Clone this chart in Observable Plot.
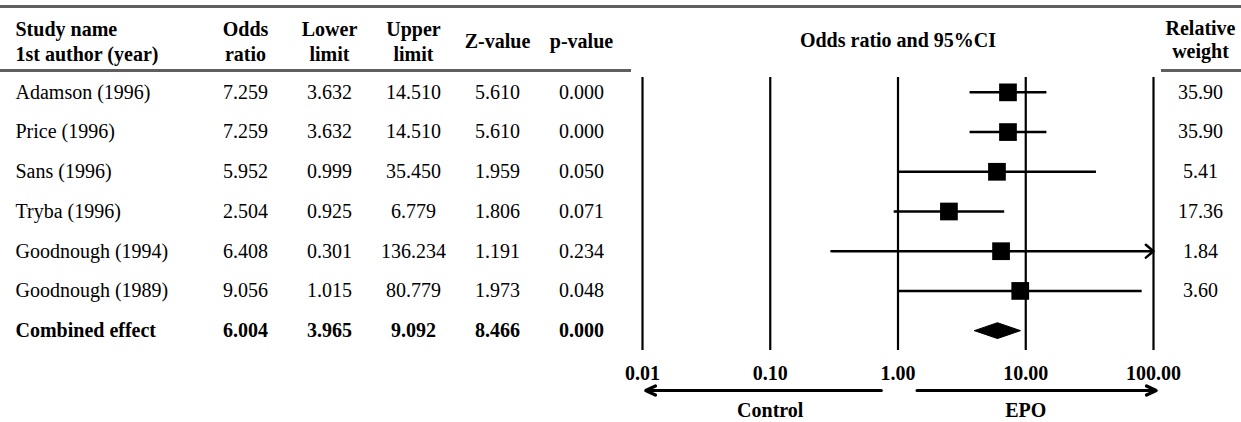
<!DOCTYPE html>
<html><head><meta charset="utf-8">
<script src="https://cdn.jsdelivr.net/npm/d3@7"></script>
<script src="https://cdn.jsdelivr.net/npm/@observablehq/plot@0.6"></script>
<style>
body{margin:0;background:#fff;}
#chart{position:relative;width:1241px;height:422px;overflow:hidden;font-family:"Liberation Serif","Times New Roman",serif;}
#chart svg{position:absolute;top:0;overflow:visible;background:transparent;max-width:none;}
.rule{position:absolute;background:#5f5f5f;height:3px}
#chart g[aria-label^="x-axis"] text{font-weight:bold}
</style></head>
<body><div id="chart"></div>
<script>
const studies = ["Adamson (1996)", "Price (1996)", "Sans (1996)", "Tryba (1996)", "Goodnough (1994)", "Goodnough (1989)", "Combined effect"];
const oddsRatio = [7.259, 7.259, 5.952, 2.504, 6.408, 9.056, 6.004];
const lowerLimit = [3.632, 3.632, 0.999, 0.925, 0.301, 1.015, 3.965];
const upperLimit = [14.510, 14.510, 35.450, 6.779, 136.234, 80.779, 9.092];
const zValue = [5.610, 5.610, 1.959, 1.806, 1.191, 1.973, 8.466];
const pValue = [0.000, 0.000, 0.050, 0.071, 0.234, 0.048, 0.000];
const relWeight = [35.90, 35.90, 5.41, 17.36, 1.84, 3.60, null];
const xTicks = [0.01, 0.1, 1, 10, 100];
const columnKeys = ["or", "lo", "hi", "z", "p"];
const columnHeaders = ["Odds\nratio", "Lower\nlimit", "Upper\nlimit", "Z-value", "p-value"];
const directionLabels = ["Control", "EPO"];
const directionAt = [0.1, 10];
const directionArrows = [[0.74, 0.0106], [1.41, 105]];

const font = "Liberation Serif";
const fs = 20;
const H = 422, MT = 72, MB = 72;
const combinedIdx = studies.length - 1;
const f3 = d3.format(".3f");

const rows = studies.map((name, i) => ({
  i, name, or: oddsRatio[i], lo: lowerLimit[i], hi: upperLimit[i],
  z: zValue[i], p: pValue[i], w: relWeight[i], bold: i === combinedIdx
}));
const cells = rows.flatMap(r => columnKeys.map(k => ({row: r.i, col: k, text: f3(r[k]), bold: r.bold})));
const yScale = {domain: [-0.5, studies.length - 0.5], reverse: true, axis: null};

const table = Plot.plot({
  width: 630, height: H, marginLeft: 15, marginRight: 0, marginTop: MT, marginBottom: MB,
  style: {fontFamily: font, fontSize: fs + "px", background: "transparent"},
  x: {type: "point", domain: columnKeys, range: [243.5, 582], padding: 0, axis: null},
  y: yScale,
  marks: [
    Plot.text(["Study name\n1st author (year)"], {text: d => d, frameAnchor: "top-left", textAnchor: "start", lineAnchor: "middle", dy: -32, fontWeight: "bold", lineHeight: 1.22}),
    Plot.text(columnKeys, {x: d => d, text: (d, i) => columnHeaders[i], frameAnchor: "top", lineAnchor: "middle", dy: -32, fontWeight: "bold", lineHeight: 1.22}),
    Plot.text(rows.filter(r => !r.bold), {y: "i", text: "name", frameAnchor: "left", textAnchor: "start"}),
    Plot.text(rows.filter(r => r.bold), {y: "i", text: "name", frameAnchor: "left", textAnchor: "start", fontWeight: "bold"}),
    Plot.text(cells.filter(c => !c.bold), {x: "col", y: "row", text: "text"}),
    Plot.text(cells.filter(c => c.bold), {x: "col", y: "row", text: "text", fontWeight: "bold"})
  ]
});
table.style.left = "0px";

const studyRows = rows.filter(r => !r.bold);
const xMax = xTicks[xTicks.length - 1];
const comb = rows[combinedIdx];
const diamond = [
  {x: comb.lo, y: comb.i}, {x: comb.or, y: comb.i - 0.2},
  {x: comb.hi, y: comb.i}, {x: comb.or, y: comb.i + 0.2}, {x: comb.lo, y: comb.i}
];

const forest = Plot.plot({
  width: 611, height: H, marginLeft: 12, marginRight: 88, marginTop: MT, marginBottom: MB,
  style: {fontFamily: font, fontSize: fs + "px", background: "transparent"},
  x: {type: "log", domain: [xTicks[0], xMax], ticks: xTicks, tickFormat: d3.format(".2f"), tickSize: 0, tickPadding: 15, label: null},
  y: yScale,
  marks: [
    Plot.ruleX(xTicks, {stroke: "black", strokeWidth: 2.2, insetTop: 5}),
    Plot.link(studyRows.filter(r => r.hi <= xMax), {x1: "lo", x2: "hi", y1: "i", y2: "i", stroke: "black", strokeWidth: 2.5}),
    Plot.arrow(studyRows.filter(r => r.hi > xMax), {x1: "lo", x2: () => xMax, y1: "i", y2: "i", stroke: "black", strokeWidth: 2.5, headLength: 6, headAngle: 80, bend: 0}),
    Plot.dot(studyRows, {x: "or", y: "i", symbol: "square", r: 10, fill: "black", stroke: null}),
    Plot.line(diamond, {x: "x", y: "y", fill: "black", stroke: "black", strokeWidth: 1}),
    Plot.text(studyRows, {y: "i", text: d => d.w.toFixed(2), frameAnchor: "right", textAnchor: "middle", dx: 47}),
    Plot.text(["Relative\nweight"], {text: d => d, frameAnchor: "top-right", textAnchor: "middle", lineAnchor: "middle", dx: 47, dy: -33, fontWeight: "bold", lineHeight: 1.15}),
    Plot.text(["Odds ratio and 95%CI"], {text: d => d, frameAnchor: "top", lineAnchor: "middle", dy: -32, fontWeight: "bold"}),
    Plot.text(directionLabels, {x: (d, i) => directionAt[i], text: d => d, frameAnchor: "bottom", lineAnchor: "middle", dy: 60, fontWeight: "bold"}),
    Plot.arrow(directionArrows, {x1: d => d[0], x2: d => d[1], y1: () => studies.length - 0.5, y2: () => studies.length - 0.5, dy: 40, stroke: "black", strokeWidth: 3.2, headLength: 5, headAngle: 50, bend: 0})
  ]
});
forest.style.left = "630px";

const chart = document.getElementById("chart");
chart.append(table, forest);
function rule(left, top, width) {
  const d = document.createElement("div");
  d.className = "rule";
  Object.assign(d.style, {left: left + "px", top: top + "px", width: width + "px"});
  chart.append(d);
}
rule(0, 5, 1241);
rule(0, 69, 631);
rule(1161, 69, 80);
</script>
</body></html>
